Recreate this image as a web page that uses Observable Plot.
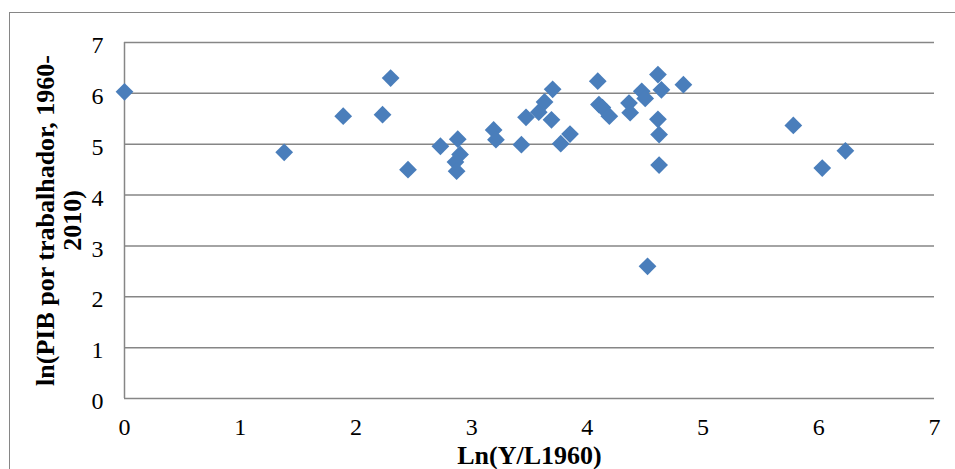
<!DOCTYPE html>
<html>
<head>
<meta charset="utf-8">
<script src="https://cdn.jsdelivr.net/npm/d3@7"></script>
<script src="https://cdn.jsdelivr.net/npm/@observablehq/plot@0.6"></script>
<style>
  html, body { margin: 0; padding: 0; background: #fff; overflow: hidden; }
  #wrap { position: relative; width: 955px; height: 469px; }
  #frame { position: absolute; left: 9px; top: 12px; width: 960px; height: 470px; border: 1.5px solid #868686; pointer-events: none; box-sizing: border-box; }
</style>
</head>
<body>
<div id="wrap"><div id="chart"></div><div id="frame"></div></div>
<script>
const lnY1960 = [0.00, 1.38, 1.89, 2.23, 2.30, 2.45, 2.73, 2.88, 2.90, 2.86, 2.87, 3.19, 3.21, 3.43, 3.47, 3.58, 3.63, 3.70, 3.69, 3.77, 3.85, 4.09, 4.10, 4.13, 4.19, 4.36, 4.37, 4.47, 4.50, 4.61, 4.64, 4.83, 4.61, 4.62, 4.62, 4.52, 5.78, 6.23, 6.03];
const lnPIB   = [6.03, 4.84, 5.55, 5.58, 6.30, 4.50, 4.96, 5.10, 4.80, 4.65, 4.47, 5.28, 5.09, 4.99, 5.53, 5.63, 5.83, 6.08, 5.48, 5.01, 5.20, 6.24, 5.78, 5.72, 5.55, 5.81, 5.62, 6.04, 5.90, 6.37, 6.07, 6.17, 5.49, 5.19, 4.59, 2.60, 5.37, 4.87, 4.53];
const tickValues = [0, 1, 2, 3, 4, 5, 6, 7];
const xTitle = "Ln(Y/L1960)";
const yTitle = "ln(PIB por trabalhador, 1960-\n2010)";

const data = lnY1960.map((x, i) => ({x, y: lnPIB[i]}));
const grey = "#868686";

const chart = Plot.plot({
  width: 955,
  height: 469,
  marginLeft: 124,
  marginRight: 21,
  marginTop: 42,
  marginBottom: 71,
  style: {fontFamily: "'Liberation Serif', 'Times New Roman', serif", fontSize: "24px", color: "#000", background: "#fff", overflow: "visible"},
  x: {domain: [0, 7]},
  y: {domain: [0, 7]},
  marks: [
    Plot.gridY(tickValues.slice(1), {stroke: grey, strokeOpacity: 1, strokeWidth: 1.5}),
    Plot.ruleY([0], {stroke: grey, strokeWidth: 1.5}),
    Plot.ruleX([0], {stroke: grey, strokeWidth: 1.5}),
    Plot.axisY(tickValues, {tickSize: 0, tickPadding: 21, label: null, fontSize: 24, dy: 3, tickFormat: d3.format("d")}),
    Plot.axisX(tickValues, {tickSize: 0, tickPadding: 29, label: null, fontSize: 24, lineAnchor: "middle", tickFormat: d3.format("d")}),
    Plot.text([xTitle], {frameAnchor: "bottom", dy: 57, lineAnchor: "middle", textAnchor: "middle", fontWeight: "bold", fontSize: 26}),
    Plot.text([yTitle], {frameAnchor: "left", dx: -66, rotate: -90, textAnchor: "middle", lineAnchor: "middle", lineHeight: 1.05, fontWeight: "bold", fontSize: 26}),
    Plot.dot(data, {x: "x", y: "y", symbol: "diamond2", r: 8, fill: "#4a7ebb", stroke: "none"})
  ]
});

document.getElementById("chart").append(chart);
</script>
</body>
</html>
